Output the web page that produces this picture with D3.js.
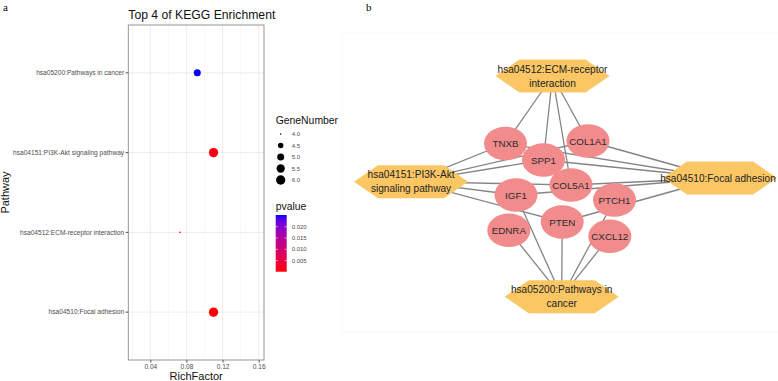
<!DOCTYPE html>
<html><head><meta charset="utf-8">
<script src="https://cdn.jsdelivr.net/npm/d3@7"></script>
<style>body{margin:0;background:#fff}svg{display:block}</style>
</head><body>
<svg id="c" width="778" height="381"></svg>
<script>
// ---- Panel a data ----
const pathways = ["hsa05200:Pathways in cancer","hsa04151:PI3K-Akt signaling pathway","hsa04512:ECM-receptor interaction","hsa04510:Focal adhesion"];
const richFactor = [0.092, 0.110, 0.073, 0.110];
const geneNumber = [5, 6, 4, 6];
const pValue = [0.0252, 0.0008, 0.0060, 0.0001];
const xTicks = [0.04, 0.08, 0.12, 0.16];
const xMinor = [0.02, 0.06, 0.10, 0.14];
const sizeBreaks = [4.0, 4.5, 5.0, 5.5, 6.0];
const pTicks = [0.005, 0.010, 0.015, 0.020];

// ---- Panel b data ----
const pathwayNodes = [
  {id:"ECM", lines:["hsa04512:ECM-receptor","interaction"]},
  {id:"PI3K", lines:["hsa04151:PI3K-Akt","signaling pathway"]},
  {id:"Focal", lines:["hsa04510:Focal adhesion"]},
  {id:"Cancer", lines:["hsa05200:Pathways in","cancer"]}
];
const geneNodes = ["TNXB","COL1A1","SPP1","COL5A1","IGF1","PTCH1","PTEN","EDNRA","CXCL12"];
const memberships = {
  ECM: ["TNXB","SPP1","COL5A1","COL1A1"],
  PI3K: ["TNXB","SPP1","COL1A1","COL5A1","IGF1","PTEN"],
  Focal: ["COL1A1","SPP1","TNXB","COL5A1","IGF1","PTEN"],
  Cancer: ["IGF1","EDNRA","PTEN","PTCH1","CXCL12"]
};
// network layout (layout units)
const layout = {
  ECM:[-12.5,-104], PI3K:[-154,1.7], Focal:[155,-2], Cancer:[-3.3,116.7],
  TNXB:[-59.5,-36.5], COL1A1:[23,-39], SPP1:[-21.5,-20], COL5A1:[6,5],
  IGF1:[-49,15], PTCH1:[49.5,20], PTEN:[-2.8,42], EDNRA:[-56.2,50.3], CXCL12:[44.8,56.3]
};

const svg = d3.select("#c");
const FONT = "'Liberation Sans', Arial, Helvetica, sans-serif";

// ================= Panel a =================
const pL = 128.3, pR = 264, pT = 25, pB = 360;
const x = d3.scaleLinear().domain([0.0156, 0.1659]).range([pL, pR]);
const y = d3.scaleBand().domain(pathways).range([pT, pB]).paddingOuter(0.1).paddingInner(0);
const yc = d => y(d) + y.bandwidth()/2;

const ga = svg.append("g");
ga.append("rect").attr("x",pL).attr("y",pT).attr("width",pR-pL).attr("height",pB-pT).attr("fill","#fff");
ga.selectAll(".mn").data(xMinor.filter(v=>x(v)>pL)).join("line")
  .attr("x1",d=>x(d)).attr("x2",d=>x(d)).attr("y1",pT).attr("y2",pB)
  .attr("stroke","#f3f3f3").attr("stroke-width",0.6);
ga.selectAll(".mj").data(xTicks).join("line")
  .attr("x1",d=>x(d)).attr("x2",d=>x(d)).attr("y1",pT).attr("y2",pB)
  .attr("stroke","#e8e8e8").attr("stroke-width",0.8);
ga.selectAll(".hy").data(pathways).join("line")
  .attr("x1",pL).attr("x2",pR).attr("y1",d=>yc(d)).attr("y2",d=>yc(d))
  .attr("stroke","#e8e8e8").attr("stroke-width",0.8);

const color = d3.scaleLinear().domain([d3.min(pValue), d3.max(pValue)]).range(["#ff0000","#0000ff"]).interpolate(d3.interpolateLab);
const tS = d3.scaleLinear().domain([d3.min(geneNumber), d3.max(geneNumber)]).range([0,1]);
const diam = d3.scaleLinear().domain([0,1]).range([1.55, 9.3]);
const rad = g => diam(Math.sqrt(tS(g)))/2;

ga.selectAll(".pt").data(pathways).join("circle")
  .attr("cx",(d,i)=>x(richFactor[i])).attr("cy",d=>yc(d))
  .attr("r",(d,i)=>rad(geneNumber[i])).attr("fill",(d,i)=>color(pValue[i]));

ga.append("rect").attr("x",pL).attr("y",pT).attr("width",pR-pL).attr("height",pB-pT)
  .attr("fill","none").attr("stroke","#8a8a8a").attr("stroke-width",0.9);

// axes
const xAxis = ga.append("g").attr("transform",`translate(0,${pB})`)
  .call(d3.axisBottom(x).tickValues(xTicks).tickSize(2.7).tickPadding(1.5).tickFormat(d3.format(".2f")));
xAxis.select(".domain").remove();
xAxis.selectAll("line").attr("stroke","#555");
xAxis.selectAll("text").attr("font-family",FONT).attr("font-size",6.6).attr("fill","#4d4d4d");

const yAxis = ga.append("g").attr("transform",`translate(${pL},0)`)
  .call(d3.axisLeft(y).tickSize(2.7).tickPadding(1.5));
yAxis.select(".domain").remove();
yAxis.selectAll("line").attr("stroke","#555");
yAxis.selectAll("text").attr("font-family",FONT).attr("font-size",6.6).attr("fill","#4d4d4d");

ga.append("text").attr("x",pL).attr("y",18.5).attr("font-family",FONT).attr("font-size",12.2)
  .attr("fill","#111").text("Top 4 of KEGG Enrichment");
ga.append("text").attr("x",(pL+pR)/2).attr("y",379.5).attr("text-anchor","middle")
  .attr("font-family",FONT).attr("font-size",11).attr("fill","#111").text("RichFactor");
ga.append("text").attr("transform",`translate(9,${(pT+pB)/2}) rotate(-90)`).attr("text-anchor","middle")
  .attr("font-family",FONT).attr("font-size",11).attr("fill","#111").text("Pathway");

// legend: GeneNumber
const lg = svg.append("g");
lg.append("text").attr("x",275.7).attr("y",123.5).attr("font-family",FONT).attr("font-size",10.4).attr("fill","#111").text("GeneNumber");
const sy = d3.scaleLinear().domain([4,6]).range([134,180]);
lg.selectAll(".sk").data(sizeBreaks).join("circle")
  .attr("cx",280.7).attr("cy",d=>sy(d)).attr("r",d=>rad(d)).attr("fill","#000");
lg.selectAll(".sl").data(sizeBreaks).join("text")
  .attr("x",291.7).attr("y",d=>sy(d)+2.1).attr("font-family",FONT).attr("font-size",6).attr("fill","#4d4d4d")
  .text(d=>d3.format(".1f")(d));

// legend: pvalue
lg.append("text").attr("x",275.7).attr("y",209.5).attr("font-family",FONT).attr("font-size",10.4).attr("fill","#111").text("pvalue");
const cbTop = 215, cbBot = 271.7, cbX = 275.7, cbW = 11;
const py = d3.scaleLinear().domain([d3.min(pValue), d3.max(pValue)]).range([cbBot, cbTop]);
const defs = svg.append("defs");
const grad = defs.append("linearGradient").attr("id","pg").attr("x1",0).attr("y1",1).attr("x2",0).attr("y2",0);
d3.range(0,1.0001,0.05).forEach(t=>{
  grad.append("stop").attr("offset",t).attr("stop-color",color(py.invert(cbBot - t*(cbBot-cbTop))));
});
lg.append("rect").attr("x",cbX).attr("y",cbTop).attr("width",cbW).attr("height",cbBot-cbTop).attr("fill","url(#pg)");
lg.selectAll(".tl").data(pTicks).join("line").attr("x1",cbX).attr("x2",cbX+2.2)
  .attr("y1",d=>py(d)).attr("y2",d=>py(d)).attr("stroke","#fff").attr("stroke-width",0.6);
lg.selectAll(".tr").data(pTicks).join("line").attr("x1",cbX+cbW-2.2).attr("x2",cbX+cbW)
  .attr("y1",d=>py(d)).attr("y2",d=>py(d)).attr("stroke","#fff").attr("stroke-width",0.6);
lg.selectAll(".pl").data(pTicks).join("text")
  .attr("x",291.7).attr("y",d=>py(d)+2.1).attr("font-family",FONT).attr("font-size",6).attr("fill","#4d4d4d")
  .text(d=>d3.format(".3f")(d));

// panel labels
svg.append("text").attr("x",3).attr("y",10.5).attr("font-family","'Liberation Serif','Times New Roman',serif").attr("font-size",11).text("a");
svg.append("text").attr("x",366).attr("y",10.5).attr("font-family","'Liberation Serif','Times New Roman',serif").attr("font-size",11).text("b");

// ================= Panel b =================
const nx = d3.scaleLinear().domain([-100,100]).range([465,665]);
const ny = d3.scaleLinear().domain([-100,100]).range([80,280]);
const gb = svg.append("g");
gb.append("rect").attr("x",342).attr("y",33).attr("width",440).attr("height",299)
  .attr("fill","none").attr("stroke","#f7f7f7").attr("stroke-width",0.8);

const edges = [];
pathwayNodes.forEach(p => memberships[p.id].forEach(g => edges.push([p.id, g])));
gb.selectAll(".e").data(edges).join("line")
  .attr("x1",d=>nx(layout[d[0]][0])).attr("y1",d=>ny(layout[d[0]][1]))
  .attr("x2",d=>nx(layout[d[1]][0])).attr("y2",d=>ny(layout[d[1]][1]))
  .attr("stroke","#848484").attr("stroke-width",1.3);

const hexW = 114, hexH = 33, inset = 24;
const hexPath = `M${-hexW/2},0 L${-hexW/2+inset},${-hexH/2} L${hexW/2-inset},${-hexH/2} L${hexW/2},0 L${hexW/2-inset},${hexH/2} L${-hexW/2+inset},${hexH/2} Z`;
const pn = gb.selectAll(".pn").data(pathwayNodes).join("g")
  .attr("transform",d=>`translate(${nx(layout[d.id][0])},${ny(layout[d.id][1])})`);
pn.append("path").attr("d",hexPath).attr("fill","#fbc765");
pn.each(function(d){
  const g = d3.select(this);
  const n = d.lines.length;
  d.lines.forEach((ln,i)=>{
    g.append("text").attr("x", d.id==="Focal" ? -2 : 0).attr("y",(i-(n-1)/2)*14 + 3.6)
      .attr("text-anchor","middle").attr("font-family",FONT).attr("font-size",10.1)
      .attr("fill","#222").text(ln);
  });
});

const gn = gb.selectAll(".gn").data(geneNodes).join("g")
  .attr("transform",d=>`translate(${nx(layout[d][0])},${ny(layout[d][1])})`);
gn.append("ellipse").attr("rx",21.5).attr("ry",16.8).attr("fill","#f28c8c");
gn.append("text").attr("y",3.5).attr("text-anchor","middle").attr("font-family",FONT)
  .attr("font-size",9.8).attr("fill","#2a2a2a").text(d=>d);
</script>
</body></html>
